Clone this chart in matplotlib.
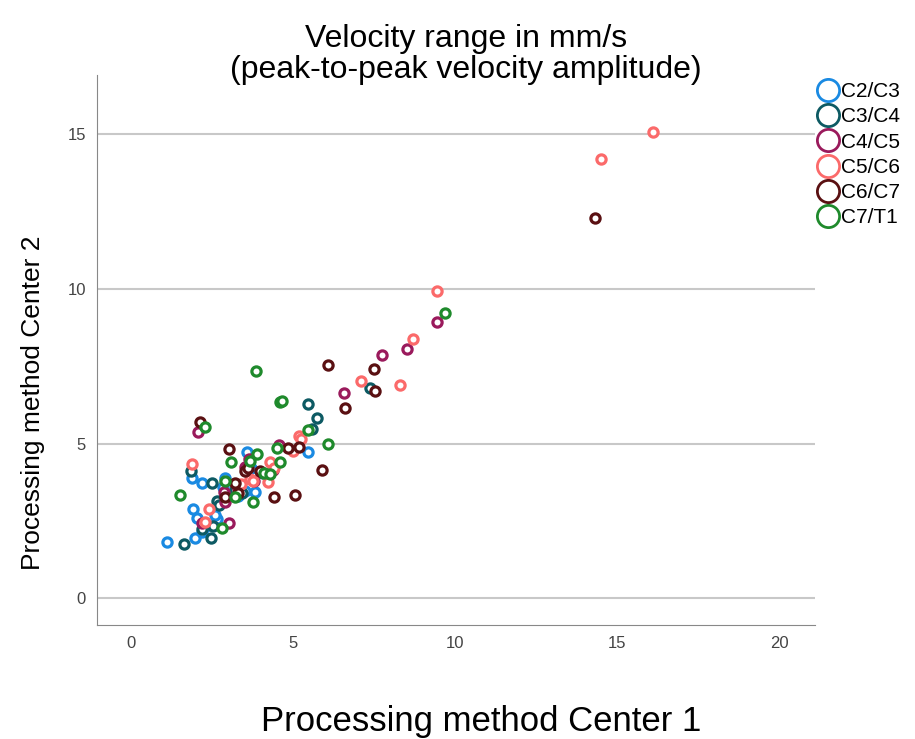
import matplotlib.pyplot as plt

plt.rcParams['font.family'] = ['Liberation Sans', 'DejaVu Sans']

levels = ["C2/C3", "C3/C4", "C4/C5", "C5/C6", "C6/C7", "C7/T1"]
colors = ["#1a8ae2", "#0d5a63", "#9a1a5c", "#fb6a6a", "#5a1012", "#1f8a2c"]

c2_x = [1.11, 1.98, 2.65, 2.6, 2.04, 1.92, 2.19, 1.88, 2.9, 3.52, 3.83, 3.58, 5.46, 2.2, 2.85, 3.3, 3.7, 2.3]
c2_y = [1.81, 1.94, 2.55, 2.7, 2.61, 2.87, 3.74, 3.9, 3.9, 3.48, 3.42, 4.74, 4.74, 2.15, 3.6, 3.3, 4.2, 2.35]

c3_x = [1.64, 2.47, 2.19, 2.53, 2.65, 2.5, 1.85, 3.43, 4.07, 5.46, 5.74, 5.59, 7.38, 2.9, 3.2, 2.7]
c3_y = [1.77, 1.94, 2.23, 2.35, 3.16, 3.71, 4.1, 3.39, 4.06, 6.28, 5.84, 5.48, 6.8, 3.3, 3.5, 3.0]

c4_x = [2.07, 2.19, 3.02, 2.87, 3.52, 4.38, 4.55, 6.57, 7.75, 8.52, 9.44, 3.3, 3.8, 2.9, 3.65]
c4_y = [5.39, 2.42, 2.42, 3.42, 4.23, 4.13, 4.95, 6.65, 7.87, 8.06, 8.94, 3.55, 3.8, 3.1, 4.5]

c5_x = [1.88, 2.41, 2.28, 3.67, 3.77, 4.23, 4.29, 5.0, 5.19, 5.25, 7.1, 8.3, 8.7, 9.44, 14.5, 16.1, 3.4, 4.4]
c5_y = [4.35, 2.87, 2.45, 3.84, 3.8, 3.77, 4.39, 4.77, 5.26, 5.16, 7.03, 6.88, 8.39, 9.94, 14.2, 15.06, 3.7, 4.2]

c6_x = [2.13, 3.02, 3.21, 2.9, 3.5, 3.98, 3.6, 4.41, 5.06, 4.85, 5.19, 5.9, 6.08, 6.6, 7.5, 7.53, 14.3, 3.3]
c6_y = [5.71, 4.84, 3.71, 3.26, 4.1, 4.1, 4.2, 3.26, 3.35, 4.87, 4.9, 4.16, 7.55, 6.16, 7.42, 6.7, 12.3, 3.4]

c7_x = [1.51, 2.28, 3.86, 3.09, 3.67, 3.89, 4.1, 4.29, 4.5, 4.6, 4.6, 4.66, 5.46, 6.08, 9.69, 2.8, 3.21, 3.77, 2.9]
c7_y = [3.35, 5.52, 7.35, 4.39, 4.45, 4.65, 4.06, 4.03, 4.87, 4.39, 6.35, 6.37, 5.45, 5.0, 9.23, 2.26, 3.26, 3.1, 3.8]

xs = [c2_x, c3_x, c4_x, c5_x, c6_x, c7_x]
ys = [c2_y, c3_y, c4_y, c5_y, c6_y, c7_y]

fig = plt.figure(figsize=(9.15, 7.39), dpi=100)
ax = fig.add_axes([0.106, 0.154, 0.785, 0.744])

for lab, col, x, y in zip(levels, colors, xs, ys):
    ax.scatter(x, y, s=44, facecolors="white", edgecolors=col, linewidths=2.3, label=lab, zorder=3)

ax.set_xlim(-1.05, 21.1)
ax.set_ylim(-0.87, 16.9)
ax.set_xticks([0, 5, 10, 15, 20])
ax.set_yticks([0, 5, 10, 15])
ax.yaxis.grid(True, color="#c8c8c8", linewidth=1.5, zorder=0)
ax.set_axisbelow(True)
ax.tick_params(length=0, labelsize=12, colors="#444444", pad=8)
for side in ["top", "right"]:
    ax.spines[side].set_visible(False)
for side in ["left", "bottom"]:
    ax.spines[side].set_color("#888888")

fig.text(0.509, 0.926, "Velocity range in mm/s\n(peak-to-peak velocity amplitude)", fontsize=23,
         linespacing=1.03, ha="center", va="center")
ax.set_xlabel("Processing method Center 1", fontsize=25)
ax.xaxis.set_label_coords(0.535, -0.146)
ax.set_ylabel("Processing method Center 2", fontsize=19)
ax.yaxis.set_label_coords(-0.072, 0.405)

handles = [plt.Line2D([], [], marker="o", linestyle="", markersize=16, markerfacecolor="white",
                      markeredgecolor=c, markeredgewidth=2) for c in colors]
fig.legend(handles, levels, loc="upper left", bbox_to_anchor=(0.882, 0.9), frameon=False,
           fontsize=15, handletextpad=0.05, labelspacing=0.3, borderaxespad=0, handlelength=1.2)

fig.savefig("out.png", dpi=100)
